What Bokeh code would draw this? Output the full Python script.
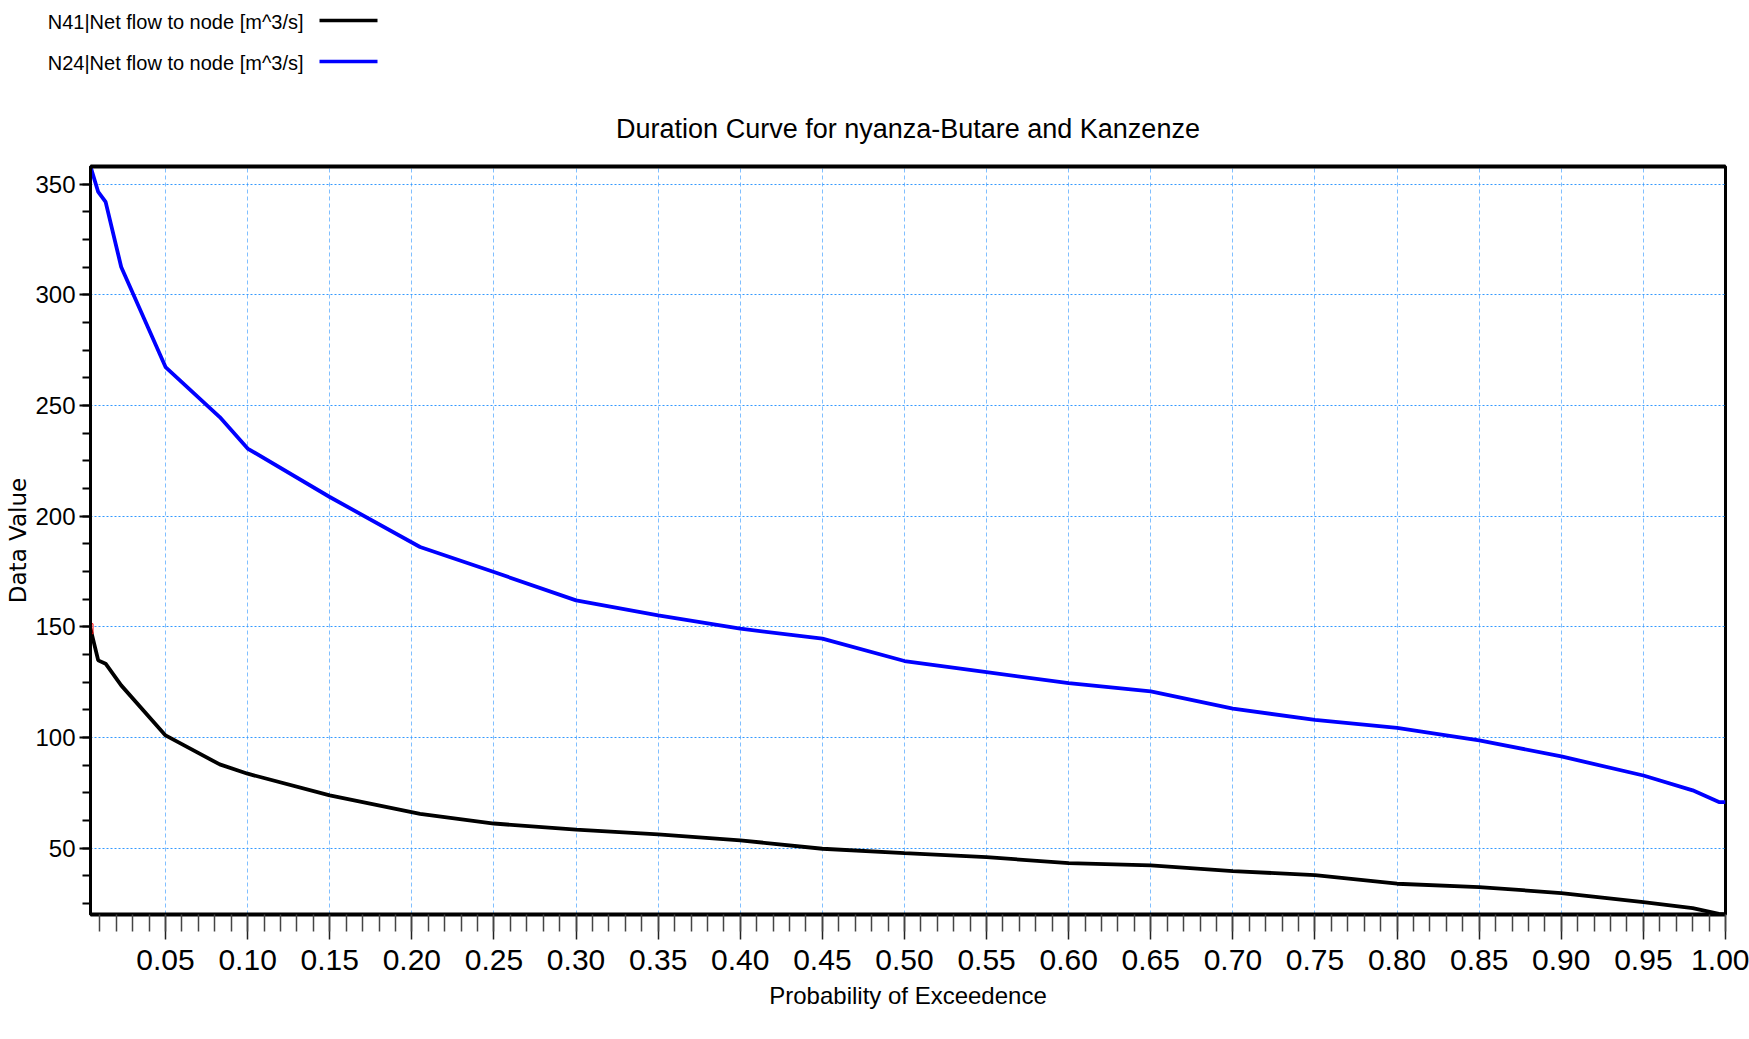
from bokeh.plotting import figure
from bokeh.models import Range1d, SingleIntervalTicker, PrintfTickFormatter, LinearAxis, FixedTicker, Label
from bokeh.embed import file_html
from bokeh.resources import INLINE

# Exceedance probability (x) and flows (m^3/s) for the two nodes
prob = [0.0043, 0.009, 0.0135, 0.023, 0.05, 0.083, 0.10, 0.15, 0.205, 0.25,
        0.30, 0.35, 0.40, 0.45, 0.50, 0.55, 0.60, 0.65, 0.70, 0.75,
        0.80, 0.85, 0.90, 0.95, 0.98, 0.996, 1.0]
n24_flow = [358.0, 346.5, 342.0, 312.6, 267.4, 244.8, 230.6, 208.7, 186.1, 174.8,
            162.0, 155.2, 149.2, 144.7, 134.6, 129.6, 124.6, 120.9, 113.1, 108.0,
            104.4, 98.8, 91.5, 82.9, 76.2, 70.9, 70.9]
n41_flow = [149.2, 134.9, 133.4, 123.6, 101.0, 87.9, 83.7, 73.9, 65.6, 61.2,
            58.4, 56.3, 53.6, 49.8, 47.8, 46.0, 43.3, 42.3, 39.7, 37.9,
            34.0, 32.5, 29.8, 25.7, 23.0, 20.4, 20.1]

series_names = ["N41|Net flow to node [m^3/s]", "N24|Net flow to node [m^3/s]"]
series_colors = ["#000000", "#0000ff"]
title_text = "Duration Curve for nyanza-Butare and Kanzenze"
x_label = "Probability of Exceedence"
y_label = "Data Value"

FONT = "Liberation Sans"

W = 1749
TOP_H = 160
MAIN_H = 1039 - TOP_H
LEFT = 90
RIGHT = 24

# ---- header strip: legend (text then line sample) and the title ----
# x/y ranges are the strip's own pixel positions
hdr = figure(width=W, height=TOP_H, output_backend="svg", toolbar_location=None,
             x_range=Range1d(0, W), y_range=Range1d(TOP_H, 0),
             x_axis_type=None, y_axis_type=None, min_border=0)
hdr.grid.visible = False
hdr.outline_line_color = None

for name, ypos in zip(series_names, [21, 62]):
    hdr.add_layout(Label(x=303, y=ypos, text=name, text_align="right",
                         text_baseline="middle", text_font=FONT,
                         text_font_size="20px", text_color="#000000"))
hdr.segment(x0=[319, 319], x1=[377, 377], y0=[20, 61], y1=[20, 61],
            line_color=series_colors, line_width=3.5)
hdr.add_layout(Label(x=907.5, y=128, text=title_text, text_align="center",
                     text_baseline="alphabetic", text_font=FONT,
                     text_font_size="27px", text_color="#000000"))

# ---- main duration-curve plot ----
p = figure(width=W, height=MAIN_H, output_backend="svg", toolbar_location=None,
           x_range=Range1d(prob[0], prob[-1]),
           y_range=Range1d(min(n41_flow), max(n24_flow)),
           min_border_left=LEFT, min_border_right=RIGHT,
           min_border_top=6, min_border_bottom=125)

p.background_fill_color = "white"
p.border_fill_color = "white"
p.outline_line_color = "black"
p.outline_line_width = 3

p.xaxis.ticker = SingleIntervalTicker(interval=0.05, num_minor_ticks=5)
p.xaxis.formatter = PrintfTickFormatter(format="%.2f")
p.yaxis.ticker = SingleIntervalTicker(interval=50, num_minor_ticks=4)

p.xgrid.grid_line_color = "#80bfff"
p.xgrid.grid_line_dash = "4 3"
p.xgrid.grid_line_width = 1
p.ygrid.grid_line_color = "#3399ff"
p.ygrid.grid_line_dash = "2 2"
p.ygrid.grid_line_width = 1

xa = p.xaxis[0]
xa.axis_line_width = 4
xa.axis_line_color = "black"
xa.major_tick_in = 0
xa.major_tick_out = 25
xa.minor_tick_in = 0
xa.minor_tick_out = 17
xa.major_tick_line_color = "#222222"
xa.minor_tick_line_color = "#444444"
xa.major_tick_line_width = 1.5
xa.minor_tick_line_width = 1.5
xa.major_label_standoff = 10
xa.major_label_text_font = FONT
xa.major_label_text_font_size = "30px"
xa.major_label_text_color = "black"
xa.axis_label = x_label
xa.axis_label_standoff = 9
xa.axis_label_text_font = FONT
xa.axis_label_text_font_size = "24px"
xa.axis_label_text_font_style = "normal"
xa.axis_label_text_color = "black"

ya = p.yaxis[0]
ya.axis_line_width = 3
ya.axis_line_color = "black"
ya.major_tick_in = 0
ya.major_tick_out = 11
ya.minor_tick_in = 0
ya.minor_tick_out = 8
ya.major_tick_line_color = "black"
ya.minor_tick_line_color = "black"
ya.major_tick_line_width = 2
ya.minor_tick_line_width = 2
ya.major_label_standoff = 4
ya.major_label_text_font = FONT
ya.major_label_text_font_size = "24px"
ya.major_label_text_color = "black"
ya.axis_label = y_label
ya.axis_label_standoff = 1
ya.axis_label_text_font = "DejaVu Sans"
ya.axis_label_text_font_size = "23px"
ya.axis_label_text_font_style = "normal"
ya.axis_label_text_color = "black"

# thicker top frame edge
top_edge = LinearAxis(ticker=FixedTicker(ticks=[]), axis_line_width=4, axis_line_color="black",
                      major_tick_out=0, major_tick_in=0, minor_tick_out=0, minor_tick_in=0,
                      major_label_text_font_size="0px", major_label_standoff=0)
p.add_layout(top_edge, "above")

p.line(prob, n24_flow, line_color=series_colors[1], line_width=3.8)
p.line(prob, n41_flow, line_color=series_colors[0], line_width=3.8)

# small red marker at the first point of N41
p.rect(x=[prob[0]], y=[n41_flow[0]], width=5, height=10,
       width_units="screen", height_units="screen",
       fill_color=None, line_color="red", line_width=1)

# header and plot as two separate roots, stacked on the page
with open("out.html", "w") as f:
    f.write(file_html([hdr, p], INLINE))
